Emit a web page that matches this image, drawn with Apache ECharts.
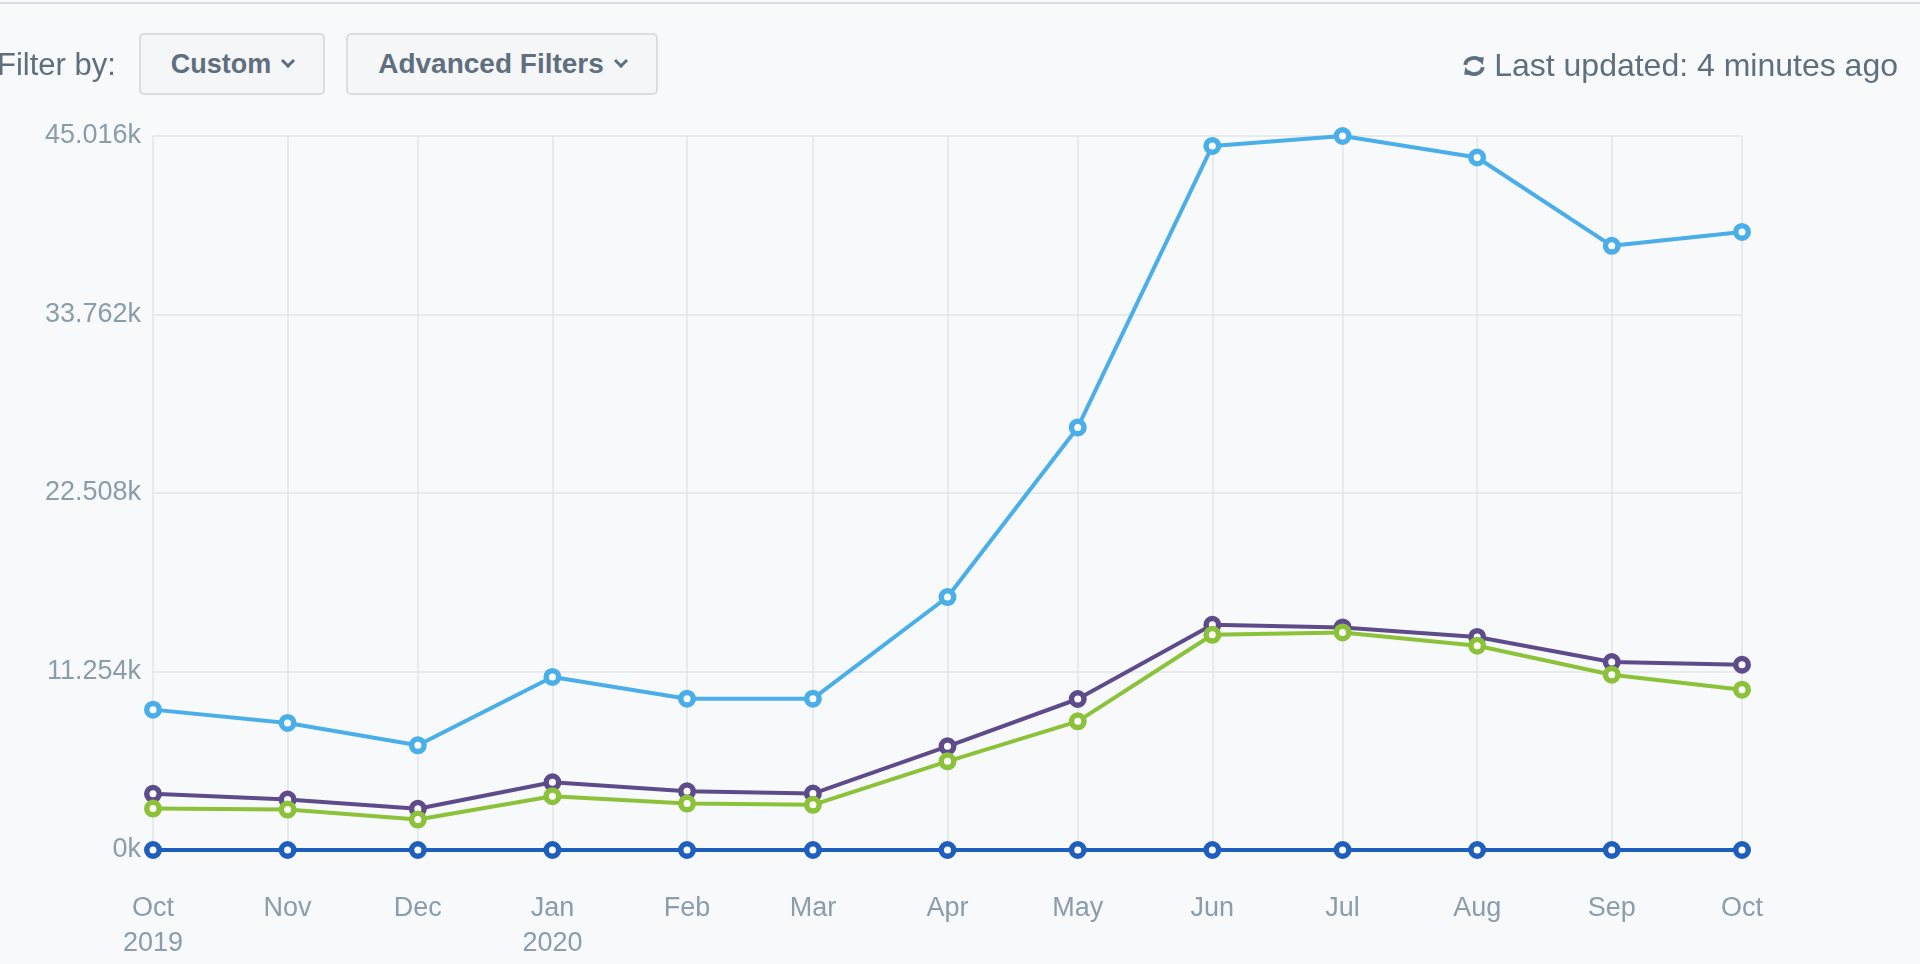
<!DOCTYPE html>
<html>
<head>
<meta charset="utf-8">
<script src="https://cdn.jsdelivr.net/npm/echarts@6/dist/echarts.min.js"></script>
<style>
  html, body { margin: 0; padding: 0; width: 100%; height: 100%; background: #f8f9fb; overflow: hidden; }
  body { font-family: "Liberation Sans", Arial, sans-serif; }
  #topline { position: absolute; left: 0; top: 2px; width: 100%; height: 2px; background: #d6dce1; }
  #chart { position: absolute; left: 0; top: 0; width: 1920px; height: 964px; }
  .hdr { position: absolute; color: #5f6f7e; font-size: 31px; }
  .btn { position: absolute; top: 33px; height: 62px; box-sizing: border-box; border: 2px solid #d9dee3;
         border-radius: 5px; background: #f4f6f8; color: #5f6f7e; font-weight: bold; font-size: 27px;
         line-height: 58px; text-align: center; }
  .caret { display: inline-block; width: 7px; height: 7px; border-right: 3px solid #5f6f7e; border-bottom: 3px solid #5f6f7e;
           transform: rotate(45deg); margin-left: 12px; position: relative; top: -7px; }
</style>
</head>
<body>
<div id="chart"></div>
<div id="topline"></div>
<div class="hdr" style="left:-3px; top:47px;">Filter by:</div>
<div class="btn" style="left:139px; width:186px;">Custom<span class="caret"></span></div>
<div class="btn" style="left:346px; width:312px; font-size:28px;">Advanced Filters<span class="caret"></span></div>
<div class="hdr" style="right:22px; top:47px; font-size:32px;">
  <svg width="24" height="24" viewBox="0 0 22 22" style="vertical-align:-2px; margin-right:8px;">
    <path d="M3 10 A8 7 0 0 1 17 6" fill="none" stroke="#5f6f7e" stroke-width="3.5"/>
    <path d="M13 3 L20 3 L19 10 Z" fill="#5f6f7e"/>
    <path d="M19 12 A8 7 0 0 1 5 16" fill="none" stroke="#5f6f7e" stroke-width="3.5"/>
    <path d="M9 19 L2 19 L3 12 Z" fill="#5f6f7e"/>
  </svg>Last updated: 4 minutes ago</div>
<script>
// months shown on the x axis (first day of each month)
var months = ['2019-10-01', '2019-11-01', '2019-12-01', '2020-01-01', '2020-02-01', '2020-03-01',
  '2020-04-01', '2020-05-01', '2020-06-01', '2020-07-01', '2020-08-01', '2020-09-01', '2020-10-01'];
var monthNames = ['Jan', 'Feb', 'Mar', 'Apr', 'May', 'Jun', 'Jul', 'Aug', 'Sep', 'Oct', 'Nov', 'Dec'];

var lightBlueValues = [8850, 8010, 6600, 10910, 9540, 9540, 15950, 26640, 44390, 45016, 43660, 38090, 38970];
var purpleValues = [3540, 3180, 2600, 4270, 3700, 3560, 6540, 9520, 14200, 14030, 13430, 11850, 11680];
var greenValues = [2610, 2550, 1920, 3390, 2930, 2850, 5590, 8110, 13570, 13720, 12880, 11050, 10110];
var darkBlueValues = [0, 0, 0, 0, 0, 0, 0, 0, 0, 0, 0, 0, 0];

var yTicks = [0, 11254, 22508, 33762, 45016];

// x positions are days since the first month, so spacing follows month length
var DAY = 86400000;
function toTime(s) {
  var p = s.split('-');
  return Date.UTC(+p[0], +p[1] - 1, +p[2]);
}
var t0 = toTime(months[0]);
var monthDays = months.map(function (s) { return Math.round((toTime(s) - t0) / DAY); });

function pairs(vals) {
  return vals.map(function (v, i) { return [monthDays[i], v]; });
}

function makeSeries(name, color, vals) {
  return {
    name: name,
    type: 'line',
    data: pairs(vals),
    symbol: 'circle',
    symbolSize: 12.5,
    showAllSymbol: true,
    lineStyle: { color: color, width: 4 },
    itemStyle: { color: '#ffffff', borderColor: color, borderWidth: 5.5 },
    emphasis: { disabled: true },
    animation: false
  };
}

var chart = echarts.init(document.getElementById('chart'));
chart.setOption({
  backgroundColor: '#f8f9fb',
  textStyle: { fontFamily: 'Liberation Sans, Arial, sans-serif' },
  grid: { left: 153, right: 178, top: 136, bottom: 114, containLabel: false },
  xAxis: {
    type: 'value',
    min: 0,
    max: monthDays[monthDays.length - 1],
    axisLine: { show: false },
    axisTick: { show: false, customValues: monthDays },
    splitLine: { show: true, lineStyle: { color: '#e3e6ea', width: 1.5 } },
    axisLabel: {
      customValues: monthDays,
      color: '#8b9cab',
      fontSize: 27,
      lineHeight: 35,
      margin: 41,
      formatter: function (val) {
        var i = monthDays.indexOf(val);
        var p = months[i].split('-');
        var m = monthNames[+p[1] - 1];
        if (i === 0 || p[1] === '01') {
          return m + '\n' + p[0];
        }
        return m;
      }
    }
  },
  yAxis: {
    type: 'value',
    min: 0,
    max: yTicks[yTicks.length - 1],
    interval: yTicks[1],
    axisLine: { show: false },
    axisTick: { show: false },
    splitLine: { lineStyle: { color: '#e3e6ea', width: 1.5 } },
    axisLabel: {
      color: '#8b9cab',
      fontSize: 27,
      margin: 12,
      formatter: function (v) { return (v / 1000) + 'k'; }
    }
  },
  series: [
    makeSeries('Light blue', '#4aaee9', lightBlueValues),
    makeSeries('Purple', '#5e4c8a', purpleValues),
    makeSeries('Green', '#8cc13a', greenValues),
    makeSeries('Dark blue', '#1e5ebd', darkBlueValues)
  ]
});
</script>
</body>
</html>
